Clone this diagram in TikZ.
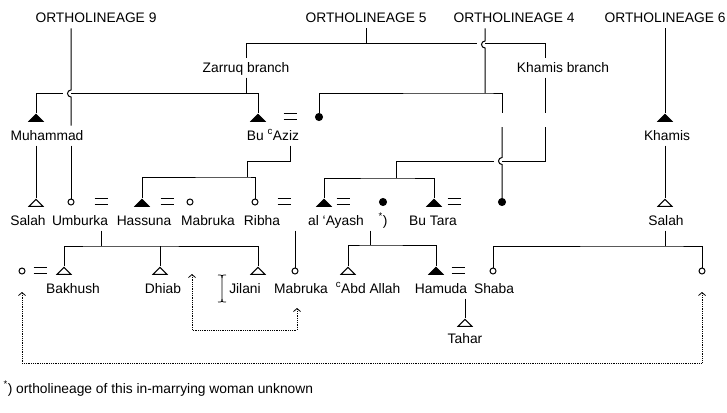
\documentclass[tikz,border=0pt]{standalone}
\usepackage{fontspec}
\setmainfont{Liberation Sans}
\usetikzlibrary{shapes.geometric,arrows.meta}

\newcommand{\jumparc}{arc[start angle=90,end angle=270,radius=3.5pt]}

\tikzset{
  male/.style={isosceles triangle, isosceles triangle stretches, shape border rotate=90,
    minimum width=14pt, minimum height=7pt, inner sep=0pt, draw, fill=black, anchor=apex},
  maleopen/.style={male, fill=white},
  female/.style={circle, draw, fill=white, inner sep=0pt, minimum size=6pt},
  femfill/.style={circle, draw, fill=black, inner sep=0pt, minimum size=7pt},
  marry/.style={inner sep=0pt, minimum width=12pt, minimum height=5pt,
    append after command={(\tikzlastnode.north west) edge (\tikzlastnode.north east)
      (\tikzlastnode.south west) edge (\tikzlastnode.south east)}},
  pname/.style={font=\fontsize{13.8}{16}\selectfont, text height=11pt, text depth=2pt,
    inner xsep=1pt, inner ysep=3pt, anchor=base},
  same/.style={densely dotted, line width=0.8pt,
    {Straight Barb[length=3pt,width=7pt]}-{Straight Barb[length=3pt,width=7pt]}},
}

\begin{document}
\begin{tikzpicture}[x=1pt,y=-1pt,line width=1pt]
  \fill[white] (0,0) rectangle (727,412);
  \useasboundingbox (0,0) rectangle (727,412);

  % ortholineages and branches
  \node[pname] (ol9) at (96,23) {ORTHOLINEAGE 9};
  \node[pname] (ol5) at (366,23) {ORTHOLINEAGE 5};
  \node[pname] (ol4) at (514,23) {ORTHOLINEAGE 4};
  \node[pname] (ol6) at (665,23) {ORTHOLINEAGE 6};
  \node[pname] (zarL) at (246,72) {Zarruq branch};
  \node[pname] (khbL) at (563,72) {Khamis branch};

  % first generation
  \node[male] (muhS) at (36,113) {};
  \node[male] (buazS) at (258,113) {};
  \node[marry] (eqA) at (290,116) {};
  \node[femfill] (wA) at (319,117) {};
  \node[male] (khamS) at (665,113) {};
  \node[pname] (muhL) at (47,140) {Muhammad};
  \node[pname] (buazL) at (273,140) {Bu \textsuperscript{c}Aziz};
  \node[pname] (khamL) at (667,140) {Khamis};

  % second generation
  \node[maleopen] (salS) at (36,198) {};
  \node[female] (umbS) at (71,202) {};
  \node[marry] (eqB) at (101,201) {};
  \node[male] (hasS) at (142,198) {};
  \node[marry] (eqC) at (167,201) {};
  \node[female] (mabS) at (190,202) {};
  \node[female] (ribS) at (255,202) {};
  \node[marry] (eqD) at (284,201) {};
  \node[male] (ayaS) at (324,198) {};
  \node[marry] (eqE) at (343,201) {};
  \node[femfill] (wB) at (383,202) {};
  \node[male] (tarS) at (434,198) {};
  \node[marry] (eqF) at (454,201) {};
  \node[femfill] (wC) at (502,202) {};
  \node[maleopen] (salS2) at (665,198) {};
  \node[pname] (salL) at (28,225) {Salah};
  \node[pname] (umbL) at (80,225) {Umburka};
  \node[pname] (hasL) at (144,225) {Hassuna};
  \node[pname] (mabL) at (208,225) {Mabruka};
  \node[pname] (ribL) at (262,225) {Ribha};
  \node[pname] (ayaL) at (336,225) {al ‘Ayash};
  \node[pname] (starL) at (383,225) {\textsuperscript{*})};
  \node[pname] (tarL) at (433,225) {Bu Tara};
  \node[pname] (salL2) at (666,225) {Salah};

  % third generation
  \node[female] (wD) at (22,271) {};
  \node[marry] (eqG) at (40,270) {};
  \node[maleopen] (bakS) at (64,266) {};
  \node[maleopen] (dhiS) at (160,266) {};
  \node[maleopen] (jilS) at (258,266) {};
  \node[female] (mab2S) at (295,271) {};
  \node[maleopen] (abdS) at (348,266) {};
  \node[male] (hamS) at (436,266) {};
  \node[marry] (eqH) at (458,270) {};
  \node[female] (shaS) at (493,271) {};
  \node[female] (wE) at (702,271) {};
  \node[pname] (bakL) at (73,293) {Bakhush};
  \node[pname] (dhiL) at (163,293) {Dhiab};
  \node[pname] (jilL) at (245,293) {Jilani};
  \node[pname] (mab2L) at (301,293) {Mabruka};
  \node[pname] (abdL) at (368,293) {\textsuperscript{c}Abd Allah};
  \node[pname] (hamL) at (441,293) {Hamuda};
  \node[pname] (shaL) at (494,293) {Shaba};
  \node[maleopen] (tahS) at (465,318) {};
  \node[pname] (tahL) at (465,343) {Tahar};

  \node[pname, anchor=base west] (fnote) at (2,393)
    {\textsuperscript{*}) ortholineage of this in-marrying woman unknown};

  % helper points
  \coordinate (l5a) at (246,44);
  \coordinate (l5b) at (545,44);
  \coordinate (zj) at (246,93);
  \coordinate (t4) at (485,93);
  \coordinate (g1) at (502,113);
  \coordinate (g2) at (502,127);
  \coordinate (k1) at (545,113);
  \coordinate (k2) at (545,127);
  \coordinate (sibK) at (396,178);
  \coordinate (ba) at (247,161);
  \coordinate (sibBA) at (247,177);
  \coordinate (sibUH) at (101,246);
  \coordinate (sibAW) at (370,245);
  \coordinate (sibS) at (665,246);

  % lineage 9
  \draw (ol9.south -| umbS) -- ++(0,61.5) \jumparc -- (muhL.north -| umbS);
  \draw (muhL.south -| umbS) -- (umbS.north);
  \draw (muhS.apex) |- (63,93);
  \draw (71,93) -| (buazS.apex);
  \draw (muhL.south -| salS) -- (salS.apex);

  % lineage 5
  \draw (ol5.south) -- (ol5.south |- l5a);
  \draw (zarL.north) -- (l5a) -- (477,44);
  \draw (485,44) -- (l5b) -- (l5b |- khbL.north);
  \draw (zarL.south) -- (zj);
  \draw (khbL.south -| k1) -- (k1);
  \draw (k2) |- (502,161);
  \draw (494,161) -| (sibK);
  \draw (ayaS.apex) |- (sibK) -| (tarS.apex);

  % lineage 4
  \draw (ol4.south -| t4) -- ++(0,12.5) \jumparc -- (t4);
  \draw (wA.north) |- (t4) -| (g1);
  \draw (g2) -- ++(0,30.5) \jumparc -- (wC.north);

  % lineage 6
  \draw (ol6.south) -- (khamS.apex);
  \draw (khamL.south -| salS2) -- (salS2.apex);
  \draw (salL2.south -| salS2) -- (sibS);
  \draw (shaS.north) |- (sibS) -| (wE.north);

  % families
  \draw (buazL.south -| eqA) |- (ba) -- (sibBA);
  \draw (hasS.apex) |- (sibBA) -| (ribS.north);
  \draw (umbL.south -| eqB) -- (sibUH);
  \draw (bakS.apex) |- (sibUH) -| (jilS.apex);
  \draw (dhiS.apex) -- (dhiS.apex |- sibUH);
  \draw (mab2S.north |- ribL.south) -- (mab2S.north);
  \draw (sibAW |- ayaL.south) -- (sibAW);
  \draw (abdS.apex) |- (sibAW) -| (hamS.apex);
  \draw (hamL.south -| tahS) -- (tahS.apex);

  % same persons
  \coordinate (d1) at (22,292);
  \coordinate (d2) at (702,292);
  \coordinate (d3) at (192,274);
  \coordinate (d4) at (297,308);
  \draw[same] (d1) -- ++(0,71) -| (d2);
  \draw[same] (d3) -- ++(0,56) -| (d4);

  % cursor
  \draw[line width=0.7pt] (218,275) .. controls (222,275) .. (222,278) -- (222,299)
    .. controls (222,302) .. (218,302);
  \draw[line width=0.7pt] (226,275) .. controls (222,275) .. (222,278);
  \draw[line width=0.7pt] (226,302) .. controls (222,302) .. (222,299);
\end{tikzpicture}
\end{document}
